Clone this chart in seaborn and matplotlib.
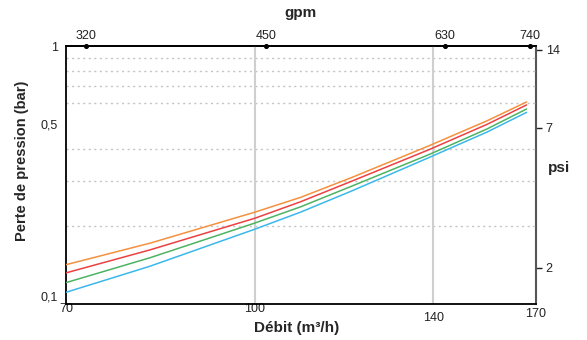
import numpy as np
import pandas as pd
import seaborn as sns
from matplotlib import pyplot as plt, ticker

# flow (m3/h) and pressure loss (bar)
debit = [70, 82, 100, 109, 120, 139, 155, 167]
perte_orange = [0.142, 0.172, 0.227, 0.259, 0.309, 0.411, 0.513, 0.607]
perte_rouge = [0.132, 0.162, 0.215, 0.249, 0.299, 0.397, 0.497, 0.591]
perte_vert = [0.121, 0.151, 0.206, 0.238, 0.286, 0.380, 0.477, 0.570]
perte_bleu = [0.111, 0.140, 0.195, 0.227, 0.274, 0.370, 0.464, 0.553]

series_names = ["orange", "rouge", "vert", "bleu"]
series_colors = ["#f5913e", "#ec4141", "#4db362", "#3ab8ea"]

x_ticks = [70, 100, 140, 170]
x_vgrid = [100, 140]
y_ticks = [1, 0.5, 0.1]
y_tick_labels = ["1", "0,5", "0,1"]
y_grid = [0.2, 0.3, 0.4, 0.5, 0.6, 0.7, 0.8, 0.9]
gpm_ticks = [320, 450, 630, 740]
psi_ticks = [2, 7, 14]

M3H_TO_GPM = 4.40287
BAR_TO_PSI = 14.5038

df = pd.DataFrame({
    "debit": debit * 4,
    "perte": perte_orange + perte_rouge + perte_vert + perte_bleu,
    "serie": [n for n in series_names for _ in debit],
})

sns.set_style("white")
plt.rcParams["font.family"] = ["Liberation Sans", "DejaVu Sans"]

fig = plt.figure(figsize=(5.87, 3.40), dpi=100)
ax = fig.add_axes([0.1124, 0.1059, 0.8007, 0.7588])

sns.lineplot(data=df, x="debit", y="perte", hue="serie", palette=series_colors,
             hue_order=series_names, legend=False, linewidth=1.1, ax=ax, zorder=3)

ax.set_xscale("log")
ax.set_yscale("log")
ax.set_xlim(70, 170)
ax.set_ylim(0.1, 1)

# axis ticks
ax.xaxis.set_minor_locator(ticker.NullLocator())
ax.set_xticks(x_ticks, labels=[str(v) for v in x_ticks])
ax.set_yticks(y_ticks, labels=y_tick_labels)
ax.set_yticks(y_grid, minor=True)
ax.yaxis.set_minor_formatter(ticker.NullFormatter())
ax.tick_params(which="both", length=0, labelsize=9, colors="#222222")
ax.tick_params(axis="y", pad=6)
pads = [-1, -1, 6, 3]
for t, p in zip(ax.xaxis.get_major_ticks(), pads):
    t.set_pad(p)
ax.get_yticklabels()[2].set_verticalalignment("bottom")

# grids
ax.grid(False)
ax.grid(which="minor", axis="y", linestyle=(0, (1.5, 2.5)), color="#c4c4c4", linewidth=1)
for xv in x_vgrid:
    ax.axvline(xv, color="#cfcfcf", linewidth=1.5, zorder=1)

for side in ["left", "bottom", "top"]:
    ax.spines[side].set_color("black")
    ax.spines[side].set_linewidth(1.3)
ax.spines["right"].set_visible(False)

ax.set_xlabel("Débit (m³/h)", fontweight="bold", fontsize=11, va="center")
ax.xaxis.set_label_coords(0.49, -0.093)
ax.set_ylabel("Perte de pression (bar)", fontweight="bold", fontsize=10.5, va="center")
ax.yaxis.set_label_coords(-0.094, 0.554)

# top axis in gpm
ax_top = ax.secondary_xaxis("top", functions=(lambda q: q * M3H_TO_GPM, lambda g: g / M3H_TO_GPM))
ax_top.xaxis.set_minor_locator(ticker.NullLocator())
ax_top.set_xticks(gpm_ticks, labels=[str(v) for v in gpm_ticks])
ax_top.tick_params(length=0, labelsize=9, pad=3, colors="#222222")
ax_top.spines["top"].set_color("black")
ax_top.spines["top"].set_linewidth(1.3)
ax_top.set_xlabel("gpm", fontweight="bold", fontsize=11, va="center")
ax_top.xaxis.set_label_coords(0.5, 1.128, transform=ax.transAxes)
ax.scatter(np.array(gpm_ticks) / M3H_TO_GPM, [1] * len(gpm_ticks), s=7,
           color="black", clip_on=False, zorder=5)

# right axis in psi
ax_right = ax.secondary_yaxis("right", functions=(lambda b: b * BAR_TO_PSI, lambda p: p / BAR_TO_PSI))
ax_right.yaxis.set_minor_locator(ticker.NullLocator())
ax_right.set_yticks(psi_ticks, labels=[str(v) for v in psi_ticks])
ax_right.tick_params(length=4, width=1, labelsize=9, pad=3, colors="#222222")
ax_right.spines["right"].set_color("#555555")
ax_right.spines["right"].set_linewidth(1.5)
ax_right.set_ylabel("psi", fontweight="bold", fontsize=11, rotation=0, va="center", ha="left")
ax_right.yaxis.set_label_coords(1.025, 0.527, transform=ax.transAxes)

fig.savefig("out.png", dpi=100)
